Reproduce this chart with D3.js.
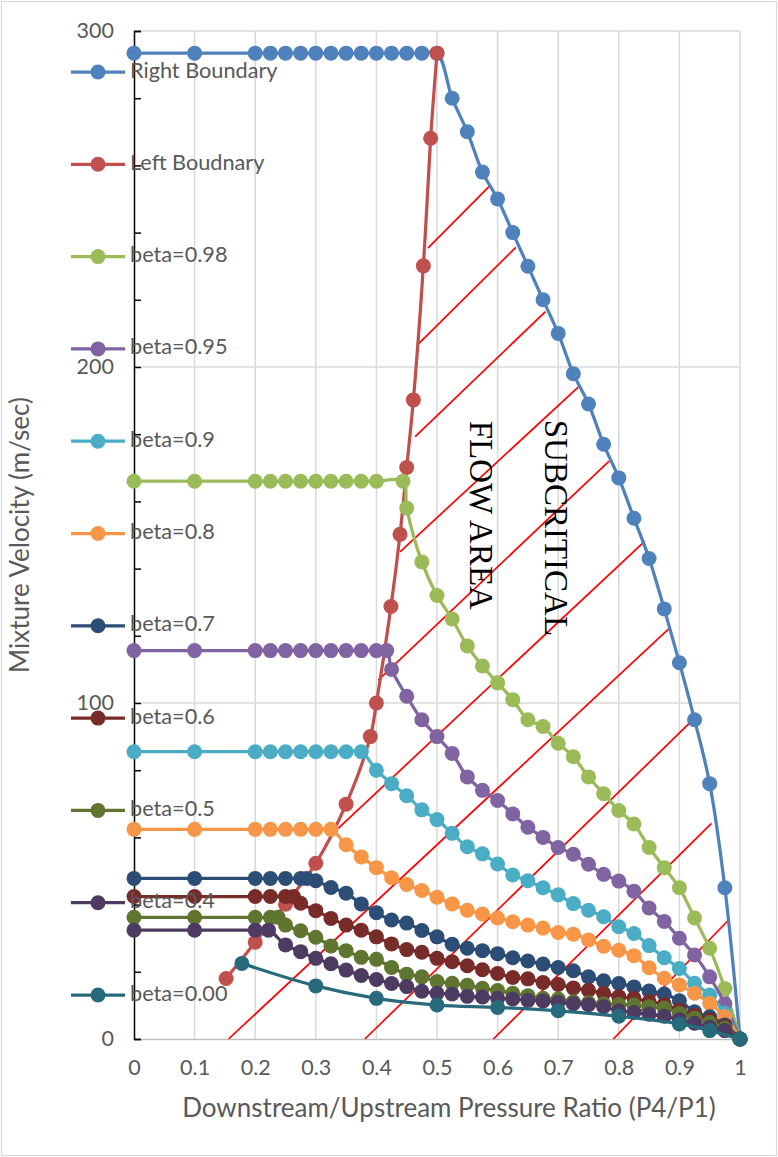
<!DOCTYPE html>
<html>
<head>
<meta charset="utf-8">
<script src="https://cdn.jsdelivr.net/npm/d3@7"></script>
<style>
  body { margin: 0; background: #fff; }
  svg text { font-family: Lato, "Open Sans", sans-serif; fill: #595959; }
</style>
</head>
<body>
<svg id="chart" width="778" height="1157"></svg>
<script>
// ---- Data: pressure ratio (P4/P1) vs mixture velocity (m/sec) ----
const seriesNames = ["Right Boundary", "Left Boudnary", "beta=0.98", "beta=0.95", "beta=0.9",
  "beta=0.8", "beta=0.7", "beta=0.6", "beta=0.5", "beta=0.4", "beta=0.00"];
const seriesColors = ["#4f81bd", "#c0504d", "#9bbb59", "#8064a2", "#4bacc6",
  "#f79646", "#2c4d75", "#772c2a", "#5f7530", "#4d3b62", "#276a7c"];

const rightX = [0,0.1,0.2,0.225,0.25,0.275,0.3,0.325,0.35,0.375,0.4,0.425,0.45,0.475,0.5,
  0.525,0.55,0.575,0.6,0.625,0.65,0.675,0.7,0.725,0.75,0.775,0.8,0.825,0.85,0.875,0.9,0.925,0.95,0.975,1];
const rightV = [293.4,293.4,293.4,293.4,293.4,293.4,293.4,293.4,293.4,293.4,293.4,293.4,293.4,293.4,293.4,
  280,270,258,250,240,230,220,210,198,189,177,167,155,143,128,112,95,76,45,0];

const leftX = [0.152,0.2,0.25,0.3,0.35,0.39,0.4,0.424,0.439,0.45,0.461,0.4775,0.4895,0.5];
const leftV = [18,28.8,40.1,52.3,69.9,90,100,128.7,150.2,170.1,190.2,230.1,268.1,293.4];

const b98X = [0,0.1,0.2,0.225,0.25,0.275,0.3,0.325,0.35,0.375,0.4,0.444,
  0.45,0.475,0.5,0.525,0.55,0.575,0.6,0.625,0.65,0.675,0.7,0.725,0.75,0.775,0.8,0.825,0.85,0.875,0.9,0.925,0.95,0.975,1];
const b98V = [166,166,166,166,166,166,166,166,166,166,166,166,
  158,142,132,125,117,111,106,101,95,93,88,84,78,73,68,64,57,51,45,36,27,15,0];

const b95X = [0,0.1,0.2,0.225,0.25,0.275,0.3,0.325,0.35,0.375,0.4,0.417,
  0.425,0.45,0.475,0.5,0.525,0.55,0.575,0.6,0.625,0.65,0.675,0.7,0.725,0.75,0.775,0.8,0.825,0.85,0.875,0.9,0.925,0.95,0.975,1];
const b95V = [115.6,115.6,115.6,115.6,115.6,115.6,115.6,115.6,115.6,115.6,115.6,115.6,
  110,102,95,90,85,78,74,71,67,63,60,57,55,52,49,47,44,39,35,30,25,18.5,10.5,0];

const b90X = [0,0.1,0.2,0.225,0.25,0.275,0.3,0.325,0.35,0.375,
  0.4,0.425,0.45,0.475,0.5,0.525,0.55,0.575,0.6,0.625,0.65,0.675,0.7,0.725,0.75,0.775,0.8,0.825,0.85,0.875,0.9,0.925,0.95,0.975,1];
const b90V = [85.5,85.5,85.5,85.5,85.5,85.5,85.5,85.5,85.5,85.5,
  80,76,72.4,68.2,65.3,61.2,57.2,55.1,52.1,48.8,47.1,45,42.9,40.3,38.3,36.4,33.4,31.4,27.8,24.2,21,16.6,13.1,7.7,0];

const b80X = [0,0.1,0.2,0.225,0.25,0.275,0.3,0.325,
  0.35,0.375,0.4,0.425,0.45,0.475,0.5,0.525,0.55,0.575,0.6,0.625,0.65,0.675,0.7,0.725,0.75,0.775,0.8,0.825,0.85,0.875,0.9,0.925,0.95,0.975,1];
const b80V = [62.4,62.4,62.4,62.4,62.4,62.4,62.4,62.4,
  57.8,54.2,51,48,46,44.2,42.2,40.2,38.3,37.2,36,34.9,33.9,33,31.7,31.2,29.5,27.6,26.4,24.8,21.2,18.1,16.1,13.6,10.6,6.6,0];

const b70X = [0,0.1,0.2,0.225,0.25,0.275,0.285,
  0.3,0.325,0.35,0.375,0.4,0.425,0.45,0.475,0.5,0.525,0.55,0.575,0.6,0.625,0.65,0.675,0.7,0.725,0.75,0.775,0.8,0.825,0.85,0.875,0.9,0.925,0.95,0.975,1];
const b70V = [47.8,47.8,47.8,47.8,47.8,47.8,47.8,
  47.1,45.1,43.4,40.2,37.6,35.4,34.5,32.3,30.4,28.2,27,26.3,25.4,24.2,23.2,22.3,21.3,20.3,18.5,17.3,16.5,15.5,14.3,13.4,11.4,8.1,6.6,4.2,0];

const b60X = [0,0.1,0.2,0.225,0.25,0.263,
  0.275,0.3,0.325,0.35,0.375,0.4,0.425,0.45,0.475,0.5,0.525,0.55,0.575,0.6,0.625,0.65,0.675,0.7,0.725,0.75,0.775,0.8,0.825,0.85,0.875,0.9,0.925,0.95,0.975,1];
const b60V = [42.4,42.4,42.4,42.4,42.4,42.4,
  40.4,38.2,35.9,33.9,32.4,30.4,28.3,26.6,25.8,24,23,21.8,20.6,19.5,18.3,17.9,16.8,16.2,15.2,14.5,13.6,12.6,12.1,11.1,10.3,8.6,7.1,5.7,3.7,0];

const b50X = [0,0.1,0.2,0.225,0.238,
  0.25,0.275,0.3,0.325,0.35,0.375,0.4,0.425,0.45,0.475,0.5,0.525,0.55,0.575,0.6,0.625,0.65,0.675,0.7,0.725,0.75,0.775,0.8,0.825,0.85,0.875,0.9,0.925,0.95,0.975,1];
const b50V = [36.2,36.2,36.2,36.2,36.2,
  33.9,32.2,30.3,27.7,26.3,24.3,23.7,21.3,19.3,18.5,17.1,16.6,16,15.1,14.4,13.6,12.9,12.1,11.9,11.1,10.8,10.5,10.3,10.1,9.6,9.2,7.6,6.2,4.9,3.2,0];

const b40X = [0,0.1,0.2,0.222,
  0.25,0.275,0.3,0.325,0.35,0.375,0.4,0.425,0.45,0.475,0.5,0.525,0.55,0.575,0.6,0.625,0.65,0.675,0.7,0.725,0.75,0.775,0.8,0.825,0.85,0.875,0.9,0.925,0.95,0.975,1];
const b40V = [32.4,32.4,32.4,32.4,
  28,26,24,22.4,20.5,18.9,17.7,16.5,15.6,14.2,13.6,13.4,12.7,12.5,12.1,11.9,11.5,11.3,10.9,10.5,10.2,9.6,8.4,7.9,7.4,6.8,5.7,4.7,3.5,2.5,0];

const b00X = [0.178,0.3,0.4,0.5,0.6,0.7,0.8,0.9,0.95,1];
const b00V = [22.5,15.8,12.1,10.1,9.4,8.4,6.8,4.5,2.5,0];

// Hatch lines across the subcritical flow area: [ratio, velocity] at each end
const hatchFrom = [[0.485,235.4],[0.469,206.8],[0.464,179.3],[0.439,145.0],[0.403,106.8],
  [0.337,62.7],[0.156,0],[0.381,0],[0.593,0],[0.791,0]];
const hatchTo = [[0.587,253.9],[0.630,235.6],[0.679,216.5],[0.733,194.0],[0.784,172.0],
  [0.843,148.2],[0.885,122.5],[0.923,95.1],[0.953,64.2],[0.980,35.2]];

const xTickValues = [0,0.1,0.2,0.3,0.4,0.5,0.6,0.7,0.8,0.9,1];
const yLabelValues = [0,100,200,300];
const yMinorValues = [0,20,40,60,80,100,120,140,160,180,200,220,240,260,280,300];

// ---- Chart ----
const svg = d3.select("#chart");
const xs = d3.scaleLinear().domain([0, 1]).range([134, 740]);
const ys = d3.scaleLinear().domain([0, 300]).range([1039, 31]);

// outer frame
svg.append("rect").attr("x", 1.5).attr("y", 1.5).attr("width", 775).attr("height", 1154)
  .attr("fill", "#fff").attr("stroke", "#d9d9d9").attr("stroke-width", 1.2);

// gridlines
const grid = svg.append("g");
grid.selectAll("line.v").data(xTickValues.slice(1)).join("line")
  .attr("x1", d => xs(d)).attr("x2", d => xs(d))
  .attr("y1", ys(0)).attr("y2", ys(300))
  .attr("stroke", "#d9d9d9").attr("stroke-width", 1.5);
grid.selectAll("line.h").data(yLabelValues.slice(1)).join("line")
  .attr("x1", xs(0)).attr("x2", xs(1))
  .attr("y1", d => ys(d)).attr("y2", d => ys(d))
  .attr("stroke", "#d9d9d9").attr("stroke-width", 1.5);

// x axis
const xAxis = svg.append("g").attr("transform", `translate(0,${ys(0)})`)
  .call(d3.axisBottom(xs).tickValues(xTickValues).tickSize(0).tickPadding(21)
    .tickFormat(d => d === 0 ? "0" : d === 1 ? "1" : d3.format(".1f")(d)));
xAxis.select(".domain").attr("stroke", "#bfbfbf").attr("stroke-width", 1.5);
xAxis.selectAll("text").attr("font-size", 21.5).style("font-family", "Lato").attr("fill", "#595959");

// y axis: minor inside ticks and labels
const yAxis = svg.append("g").attr("transform", `translate(${xs(0)},0)`)
  .call(d3.axisRight(ys).tickValues(yMinorValues).tickSize(7).tickFormat(""));
yAxis.select(".domain").attr("stroke", "#000").attr("stroke-width", 1.5);
yAxis.selectAll(".tick line").attr("stroke", "#000").attr("stroke-width", 1.5);

const yLabels = svg.append("g").attr("transform", `translate(${xs(0)},0)`)
  .call(d3.axisLeft(ys).tickValues(yLabelValues).tickSize(0).tickPadding(20));
yLabels.select(".domain").remove();
yLabels.selectAll("text").attr("font-size", 21.5).style("font-family", "Lato").attr("fill", "#595959");

// axis titles
svg.append("text").attr("x", 449).attr("y", 1110).attr("text-anchor", "middle")
  .attr("dominant-baseline", "middle").attr("font-size", 26)
  .text("Downstream/Upstream Pressure Ratio (P4/P1)");
svg.append("text").attr("transform", `translate(22,${(ys(0) + ys(300)) / 2}) rotate(-90)`)
  .attr("text-anchor", "middle").attr("dominant-baseline", "middle").attr("font-size", 26)
  .text("Mixture Velocity (m/sec)");

// red hatching
svg.append("g").selectAll("line").data(hatchFrom.map((a, i) => [a, hatchTo[i]])).join("line")
  .attr("x1", d => xs(d[0][0])).attr("y1", d => ys(d[0][1]))
  .attr("x2", d => xs(d[1][0])).attr("y2", d => ys(d[1][1]))
  .attr("stroke", "#ff0000").attr("stroke-width", 1.7);

// series
const seriesX = [rightX, leftX, b98X, b95X, b90X, b80X, b70X, b60X, b50X, b40X, b00X];
const seriesV = [rightV, leftV, b98V, b95V, b90V, b80V, b70V, b60V, b50V, b40V, b00V];
const series = seriesNames.map((name, i) => ({
  name, color: seriesColors[i],
  pts: seriesX[i].map((xv, j) => [xv, seriesV[i][j]])
}));

const line = d3.line().x(d => xs(d[0])).y(d => ys(d[1])).curve(d3.curveCatmullRom.alpha(0.5));
series.forEach(s => {
  const g = svg.append("g");
  g.append("path").attr("d", line(s.pts)).attr("fill", "none")
    .attr("stroke", s.color).attr("stroke-width", 3.25).attr("stroke-linejoin", "round");
  g.selectAll("circle").data(s.pts).join("circle")
    .attr("cx", d => xs(d[0])).attr("cy", d => ys(d[1])).attr("r", 7.5).attr("fill", s.color);
});

// region labels
const notes = [["FLOW AREA", 0.5545, 184], ["SUBCRITICAL", 0.678, 184.3]];
notes.forEach(([t, xv, vv]) => {
  svg.append("text").attr("transform", `translate(${xs(xv)},${ys(vv)}) rotate(90)`)
    .style("font-family", "'Liberation Serif', serif").style("fill", "#000")
    .attr("font-size", 33).text(t);
});

// legend
const legend = svg.append("g");
series.forEach((s, i) => {
  const g = legend.append("g").attr("transform", `translate(0,${72 + i * 92.3})`);
  g.append("line").attr("x1", 71).attr("x2", 125).attr("stroke", s.color).attr("stroke-width", 3.25);
  g.append("circle").attr("cx", 98).attr("r", 7.5).attr("fill", s.color);
  g.append("text").attr("x", 130).attr("dominant-baseline", "middle").attr("font-size", 21.7).text(s.name);
});
</script>
</body>
</html>
